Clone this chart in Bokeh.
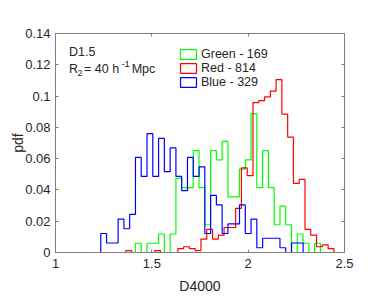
import numpy as np
from bokeh.plotting import figure
from bokeh.models import Range1d, LinearAxis, FixedTicker, Label, Legend, LegendItem
from bokeh.embed import file_html
from bokeh.resources import INLINE

# ---------------- data ----------------
BIN_WIDTH = 0.03

green_name = "Green - 169"
green_n = 169
green_start = 1.415
green_counts = [1, 0, 1, 1, 2, 0, 2, 8, 7, 7, 11, 7, 3, 11, 10, 12, 6, 6, 9, 10,
                15, 7, 11, 7, 3, 5, 3, 0, 2, 1, 0, 1]

red_name = "Red - 814"
red_n = 814
red_start = 1.365
red_counts = [1, 0, 0, 0, 0, 1, 0, 0, 0, 2, 3, 2, 1, 7, 12, 7, 9, 13, 13, 23,
              44, 40, 78, 79, 81, 84, 90, 72, 60, 36, 38, 12, 9, 3, 4, 2]

blue_name = "Blue - 329"
blue_n = 329
blue_start = 1.235
blue_counts = [4, 2, 2, 7, 5, 8, 20, 16, 25, 16, 24, 17, 22, 16, 13, 20, 16, 18,
               4, 12, 10, 4, 6, 6, 10, 4, 7, 1, 3, 3, 3, 1, 0, 2, 2]

x_ticks = [1, 1.5, 2, 2.5]
x_tick_labels = ["1", "1.5", "2", "2.5"]
y_ticks = [0, 0.02, 0.04, 0.06, 0.08, 0.1, 0.12, 0.14]
y_tick_labels = ["0", "0.02", "0.04", "0.06", "0.08", "0.1", "0.12", "0.14"]

# ---------------- helpers ----------------
def outline(start, counts, n):
    vals = np.asarray(counts, dtype=float) / n
    edges = start + BIN_WIDTH * np.arange(len(vals) + 1)
    xs = np.repeat(edges, 2)
    ys = np.concatenate([[0.0], np.repeat(vals, 2), [0.0]])
    return xs, ys

FONT = "Liberation Sans"
AX = "#7f7f7f"
TXT = "#262626"

p = figure(frame_width=289, frame_height=219,
           x_range=Range1d(1, 2.5), y_range=Range1d(0, 0.14),
           output_backend="svg", toolbar_location=None,
           min_border_left=55, min_border_right=22,
           min_border_top=33, min_border_bottom=37)
p.xgrid.visible = False
p.ygrid.visible = False
p.outline_line_color = AX
p.background_fill_color = "white"
p.border_fill_color = "white"

xa = p.xaxis[0]
ya = p.yaxis[0]
xa.ticker = FixedTicker(ticks=x_ticks)
ya.ticker = FixedTicker(ticks=y_ticks)
xa.major_label_overrides = dict(zip(x_ticks, x_tick_labels))
ya.major_label_overrides = dict(zip(y_ticks, y_tick_labels))
for ax in (xa, ya):
    ax.major_tick_in = 3
    ax.major_tick_out = 0
    ax.minor_tick_line_color = None
    ax.axis_line_color = AX
    ax.major_tick_line_color = AX
    ax.major_label_text_font = FONT
    ax.major_label_text_font_size = "13px"
    ax.major_label_text_color = TXT
    ax.axis_label_text_font = FONT
    ax.axis_label_text_font_size = "14px"
    ax.axis_label_text_font_style = "normal"
    ax.axis_label_text_color = TXT
xa.axis_label = "D4000"
ya.axis_label = "pdf"
xa.major_label_standoff = 6
xa.axis_label_standoff = 7
ya.major_label_standoff = 5
ya.axis_label_standoff = -4

for loc, ticks in (("above", x_ticks), ("right", y_ticks)):
    ax = LinearAxis(ticker=FixedTicker(ticks=ticks),
                    major_label_overrides={t: "" for t in ticks},
                    major_label_text_font_size="1px",
                    major_label_standoff=0,
                    major_tick_in=3, major_tick_out=0,
                    minor_tick_line_color=None,
                    axis_line_color=AX, major_tick_line_color=AX)
    p.add_layout(ax, loc)

series = [
    (green_name, green_start, green_counts, green_n, "#00ff00"),
    (red_name, red_start, red_counts, red_n, "#ff0000"),
    (blue_name, blue_start, blue_counts, blue_n, "#0000ff"),
]
items = []
for name, start, counts, n, color in series:
    xs, ys = outline(start, counts, n)
    p.line(xs, ys, line_color=color, line_width=1.2)
    # zero-size quad used only for the legend swatch (outlined box)
    q = p.quad(left=[start], right=[start], bottom=[0], top=[0],
               fill_alpha=0, line_color=color, line_width=1.2)
    items.append(LegendItem(label=name, renderers=[q]))

legend = Legend(items=items, location=(123, 163),
                glyph_width=20, glyph_height=12, label_height=12,
                spacing=0, padding=0, margin=0, label_standoff=3,
                border_line_color=None, background_fill_alpha=0,
                label_text_font=FONT, label_text_font_size="12.5px",
                label_text_color=TXT)
p.add_layout(legend)

def lab(x, y, text, size="12.5px"):
    p.add_layout(Label(x=x, y=y, text=text, text_font=FONT,
                       text_font_size=size, text_color=TXT,
                       text_baseline="alphabetic", text_align="left"))

lab(1.0705, 0.1282, "D1.5")
lab(1.0705, 0.1170, "R")
lab(1.114, 0.1149, "2", "9px")
lab(1.1482, 0.1170, "= 40 h")
lab(1.3420, 0.1206, "-1", "9.5px")
lab(1.3953, 0.1170, "Mpc")

open("out.html", "w").write(file_html(p, INLINE))
